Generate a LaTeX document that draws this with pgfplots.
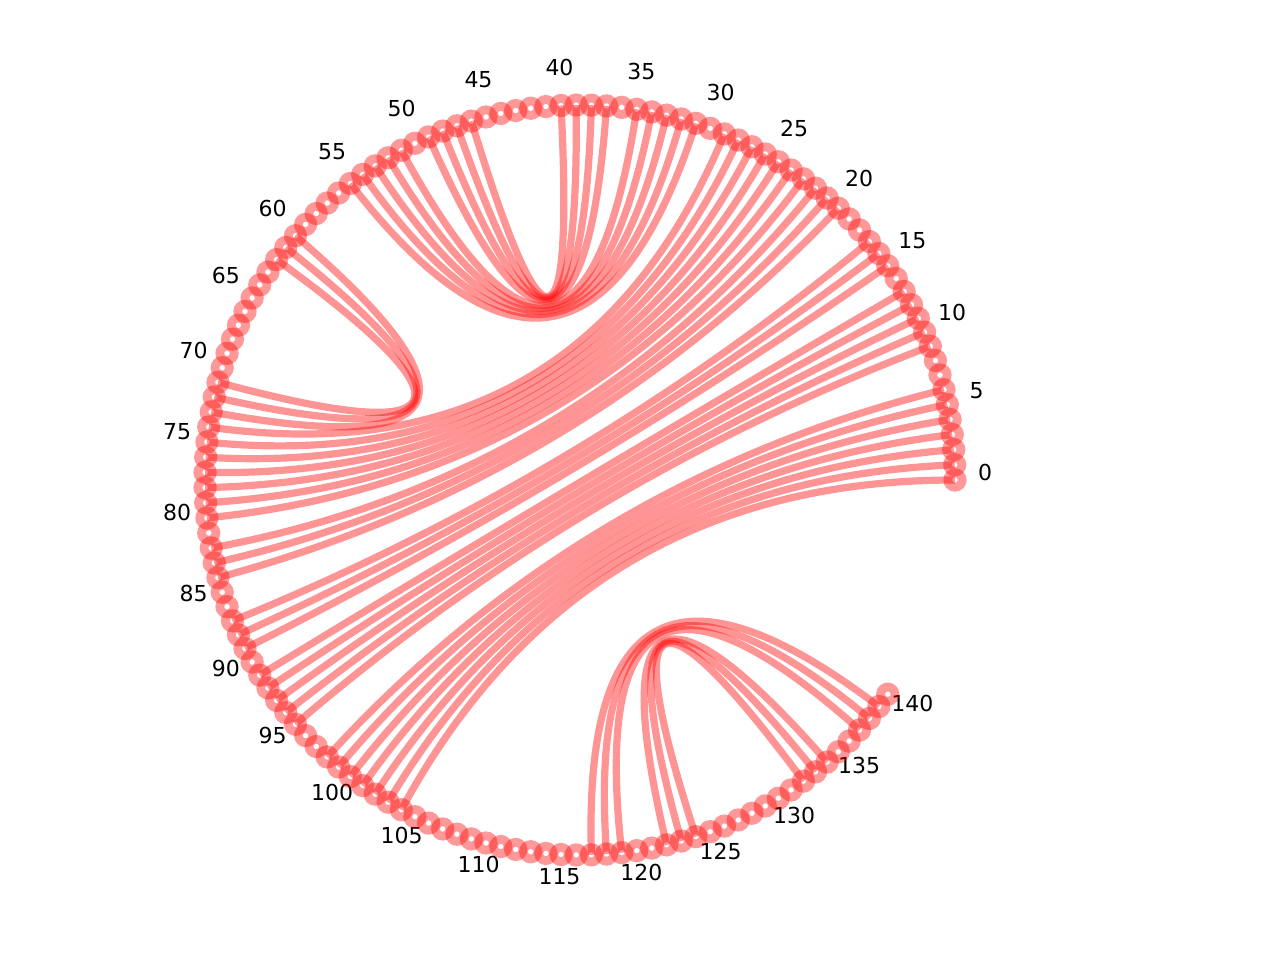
\documentclass[border=0pt]{standalone}
\usepackage{pgfplots}
\usepackage{pgfplotstable}
\pgfplotsset{compat=1.18}
\usepackage{fontspec}
\setmainfont{DejaVu Sans}

% edges: pairs of node indices
\pgfplotstableread{
i j
0 104
1 103
2 102
3 101
4 100
5 99
6 98
9 95
10 94
11 93
12 92
13 91
15 89
16 88
17 87
20 84
21 83
22 82
23 80
24 79
25 78
26 77
27 76
28 75
29 74
31 55
32 54
33 53
34 52
35 51
37 49
38 48
39 47
40 46
60 73
61 72
62 71
117 139
118 138
119 137
122 134
123 133
124 132
}\edgetab

\pgfplotstableread[row sep=\\]{i k\\0 1\\1 1\\2 1\\3 1\\4 1\\5 1\\6 1\\7 1\\8 1\\9 1\\10 1\\11 1\\12 1\\13 1\\14 1\\15 1\\16 1\\17 1\\18 1\\19 1\\20 1\\21 1\\22 1\\23 1\\24 1\\25 1\\26 1\\27 1\\28 1\\29 1\\30 1\\31 1\\32 1\\33 1\\34 1\\35 1\\36 1\\37 1\\38 1\\39 1\\40 1\\41 1\\42 1\\43 1\\44 1\\45 1\\46 1\\47 1\\48 1\\49 1\\50 1\\51 1\\52 1\\53 1\\54 1\\55 1\\56 1\\57 1\\58 1\\59 1\\60 1\\61 1\\62 1\\63 1\\64 1\\65 1\\66 1\\67 1\\68 1\\69 1\\70 1\\71 1\\72 1\\73 1\\74 1\\75 1\\76 1\\77 1\\78 1\\79 1\\80 1\\81 1\\82 1\\83 1\\84 1\\85 1\\86 1\\87 1\\88 1\\89 1\\90 1\\91 1\\92 1\\93 1\\94 1\\95 1\\96 1\\97 1\\98 1\\99 1\\100 1\\101 1\\102 1\\103 1\\104 1\\105 1\\106 1\\107 1\\108 1\\109 1\\110 1\\111 1\\112 1\\113 1\\114 1\\115 1\\116 1\\117 1\\118 1\\119 1\\120 1\\121 1\\122 1\\123 1\\124 1\\125 1\\126 1\\127 1\\128 1\\129 1\\130 1\\131 1\\132 1\\133 1\\134 1\\135 1\\136 1\\137 1\\138 1\\139 1\\140 1\\}\nodetab

\def\dstep{2.32258}

\begin{document}
\begin{tikzpicture}
\begin{axis}[
  scale only axis, width=640pt, height=480pt,
  xmin=-1.546667, xmax=1.866667, ymin=-1.28, ymax=1.28,
  hide axis, clip=false,
]
\path (rel axis cs:0,0) rectangle (rel axis cs:1,1);
\pgfplotstablegetrowsof{\edgetab}
\pgfmathtruncatemacro\nrows{\pgfplotsretval-1}
\pgfplotsforeachungrouped \k in {0,...,\nrows}{%
  \pgfplotstablegetelem{\k}{i}\of\edgetab \pgfmathsetmacro\ta{\pgfplotsretval*\dstep}%
  \pgfplotstablegetelem{\k}{j}\of\edgetab \pgfmathsetmacro\tb{\pgfplotsretval*\dstep}%
  \pgfmathsetmacro\ax{cos(\ta)}\pgfmathsetmacro\ay{sin(\ta)}%
  \pgfmathsetmacro\bx{cos(\tb)}\pgfmathsetmacro\by{sin(\tb)}%
  \pgfmathsetmacro\axc{\ax/3}\pgfmathsetmacro\ayc{\ay/3}%
  \pgfmathsetmacro\bxc{\bx/3}\pgfmathsetmacro\byc{\by/3}%
  \edef\temp{\noexpand\draw[draw=red, draw opacity=0.42, line width=3.6pt] (axis cs:\ax,\ay) .. controls (axis cs:\axc,\ayc) and (axis cs:\bxc,\byc) .. (axis cs:\bx,\by);}%
  \temp
}
\addplot[only marks, mark=o, mark size=3.6pt,
  mark options={draw=red, draw opacity=0.4, line width=4.4pt}]
  table[x expr={\thisrow{k}*cos(\thisrow{i}*\dstep)}, y expr={\thisrow{k}*sin(\thisrow{i}*\dstep)}] {\nodetab};
\pgfplotsforeachungrouped \k in {0,5,...,140}{%
  \pgfmathsetmacro\lx{1.08*cos(\k*\dstep)}\pgfmathsetmacro\ly{1.08*sin(\k*\dstep)}%
  \edef\temp{\noexpand\node[anchor=base, font=\noexpand\fontsize{11}{13}\noexpand\selectfont, inner sep=0pt] at (axis cs:\lx,\ly) {\k};}%
  \temp
}
\end{axis}
\end{tikzpicture}
\end{document}
